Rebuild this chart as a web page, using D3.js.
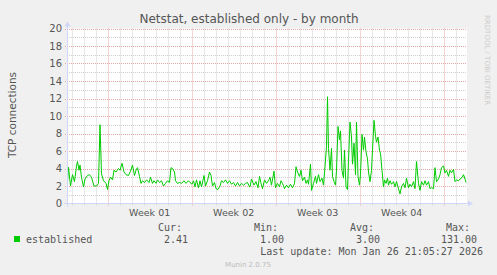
<!DOCTYPE html>
<html><head><meta charset="utf-8">
<script src="https://cdn.jsdelivr.net/npm/d3@7"></script>
<style>body{margin:0;background:#F0F0F0;}svg{display:block;}</style>
</head><body>
<script>
// ---- data ----
const title = "Netstat, established only - by month";
const yLabel = "TCP connections";
const seriesName = "established";
const weekLabels = ["Week 01","Week 02","Week 03","Week 04"];
const yTicks = [0,2,4,6,8,10,12,14,16,18,20];
// sample times (hours from start of graph window) and values
const hours = [1,3,7,11,15,19,21,24,26,29,33,36,41,45,49,54,59,63,66,69,73,78,81,84,87,91,94,98,103,106,110,114,118,123,127,131,135,138,141,145,148,151,155,159,164,167,171,174,178,181,185,189,193,197,201,205,208,211,215,217,221,225,229,234,238,243,246,250,253,256,259,263,266,269,274,277,281,285,288,291,295,298,302,306,309,313,317,321,325,329,333,337,341,345,349,353,357,361,365,
366,369,374,378,382,385,388,391,395,399,403,406,409,414,417,421,425,428,431,435,439,443,447,451,455,458,461,465,468,471,475,478,481,483,487,489,493,497,499,503,506,510,513,516,519,521,523,526,529,531,534,537,539,542,545,547,550,553,555,558,561,563,566,569,571,574,577,579,582,585,587,590,593,595,598,601,603,606,609,611,614,617,619,622,625,627,630,633,635,638,641,643,646,649,653,656,659,663,666,669,673,676,679,683,686,689,693,696,699,703,706,709,713,716,719,723,726,729,733,736,739,743,746,749,753,756,759,763,766,769,773,776,779,783,786,789,793,796,798];
const values = [2.4,4.15,2.0,3.3,2.5,4.3,4.8,3.8,4.4,3.0,1.9,2.8,3.2,3.3,3.0,2.0,2.0,2.3,9.0,3.4,2.6,2.3,1.6,2.6,3.0,2.7,3.8,3.6,4.0,3.8,4.6,3.6,3.3,3.2,3.7,4.4,3.2,3.8,4.1,3.1,2.3,2.6,2.4,2.7,2.4,3.0,2.3,2.6,2.3,2.7,2.4,2.6,2.0,2.3,2.6,2.4,4.1,4.0,3.6,2.6,2.3,2.4,2.3,2.6,2.3,2.6,2.4,2.2,2.6,1.9,2.7,1.8,2.6,1.9,3.2,2.0,2.6,3.6,3.2,2.0,2.4,1.7,1.6,2.0,2.6,2.4,2.7,2.3,2.6,2.2,2.4,2.0,2.4,2.0,2.3,2.1,2.3,2.4,1.9,
1.9,2.8,2.1,2.5,1.8,3.1,2.3,1.7,2.7,2.3,2.6,3.0,2.1,3.7,1.8,2.3,1.9,2.6,2.3,1.7,2.1,1.8,2.2,1.8,2.3,4.2,3.6,3.1,3.8,2.6,3.0,2.3,2.7,2.2,4.5,1.5,2.3,3.1,2.3,3.3,2.5,2.9,2.1,4.2,6.5,12.2,6.3,3.8,6.3,3.1,2.5,2.1,3.8,8.8,7.3,8.3,3.8,2.9,6.1,1.9,1.6,4.9,9.3,7.6,4.5,6.9,3.3,9.3,3.1,2.1,3.3,7.9,6.1,7.6,5.9,5.1,3.6,2.5,3.8,6.1,9.5,7.7,7.0,7.6,6.1,5.7,3.8,1.9,2.7,2.3,2.9,2.1,2.6,2.2,2.5,1.9,2.5,1.7,1.1,1.9,2.3,1.8,2.9,1.8,2.2,1.9,2.5,1.7,4.8,2.3,1.5,2.5,2.1,2.6,2.1,2.5,1.7,1.8,1.7,4.1,2.5,2.8,3.3,4.1,4.3,3.5,3.8,3.1,3.8,3.5,3.9,2.5,2.7,2.6,2.8,2.9,3.3,2.8,2.4];
const legendHeads = ["Cur:","Min:","Avg:","Max:"];
const legendValues = ["2.41","1.00","3.00","131.00"];
const lastUpdate = "Last update: Mon Jan 26 21:05:27 2026";
const footer = "Munin 2.0.75";
const sideText = "RRDTOOL / TOBI OETIKER";
const totalHours = 800;
const firstDayLine = 9.33;   // first midnight in the window (hours)
const firstWeekLine = 81.33; // first week boundary (hours)

// ---- layout ----
const W = 497, H = 275;
const L = 67, R = 467, T = 28.5, B = 203.5;
const svg = d3.select("body").append("svg").attr("width", W).attr("height", H);
svg.append("rect").attr("width", W).attr("height", H).attr("fill", "#F0F0F0");

const x = d3.scaleLinear().domain([0, totalHours]).range([L, R]);
const y = d3.scaleLinear().domain([0, 20]).range([B, T]);

svg.append("rect").attr("x", L).attr("y", T).attr("width", R - L).attr("height", B - T).attr("fill", "#FFFFFF");

const dayLines = d3.range(firstDayLine, totalHours, 24);
const weekLines = d3.range(firstWeekLine, totalHours, 168);
const isWeek = h => weekLines.some(w => Math.abs(w - h) < 1);
const g = svg.append("g");
// minor horizontal
g.selectAll(".hmin").data(d3.range(1, 20, 2)).join("line")
  .attr("x1", L).attr("x2", R).attr("y1", d => Math.round(y(d)) + 0.5).attr("y2", d => Math.round(y(d)) + 0.5)
  .attr("stroke", "#cfcfcf").attr("stroke-dasharray", "1,1");
// minor vertical
g.selectAll(".vmin").data(dayLines.filter(h => !isWeek(h))).join("line")
  .attr("x1", d => Math.round(x(d)) + 0.5).attr("x2", d => Math.round(x(d)) + 0.5).attr("y1", T).attr("y2", B + 2)
  .attr("stroke", "#cfcfcf").attr("stroke-dasharray", "1,1");
// major horizontal
g.selectAll(".hmaj").data(yTicks.filter(d => d > 0)).join("line")
  .attr("x1", L - 2).attr("x2", R).attr("y1", d => Math.round(y(d)) + 0.5).attr("y2", d => Math.round(y(d)) + 0.5)
  .attr("stroke", "#e8a8a8").attr("stroke-dasharray", "1,1");
// major vertical
g.selectAll(".vmaj").data(weekLines).join("line")
  .attr("x1", d => Math.round(x(d)) + 0.5).attr("x2", d => Math.round(x(d)) + 0.5).attr("y1", T).attr("y2", B + 3)
  .attr("stroke", "#e8a8a8").attr("stroke-dasharray", "1,1");

// data line
const pts = hours.map((h, i) => [h, values[i]]);
svg.append("path").datum(pts)
  .attr("d", d3.line().x(d => x(d[0])).y(d => y(d[1])))
  .attr("fill", "none").attr("stroke", "#00CC00").attr("stroke-width", 1);

// axes
const axisCol = "#CFD6F8";
svg.append("line").attr("x1", L - 3).attr("x2", R + 3).attr("y1", B).attr("y2", B).attr("stroke", axisCol);
svg.append("line").attr("x1", L + 0.5).attr("x2", L + 0.5).attr("y1", B + 3).attr("y2", T - 3).attr("stroke", axisCol);
svg.append("path").attr("d", `M${R+1},${B-3} L${R+6},${B} L${R+1},${B+3} Z`).attr("fill", axisCol);
svg.append("path").attr("d", `M${L-2.5},${T-2} L${L+0.5},${T-7} L${L+3.5},${T-2} Z`).attr("fill", axisCol);

// y tick labels
svg.selectAll(".yt").data(yTicks).join("text")
  .attr("x", 62).attr("y", d => y(d) + 3.5).attr("text-anchor", "end")
  .attr("font-family", "DejaVu Sans").attr("font-size", 10).attr("fill", "#555")
  .text(d => d);
// week labels
svg.selectAll(".wk").data(weekLines.slice(0, weekLabels.length)).join("text")
  .attr("x", d => x(d + 84)).attr("y", 216).attr("text-anchor", "middle")
  .attr("font-family", "DejaVu Sans").attr("font-size", 9.5).attr("fill", "#555")
  .text((d, i) => weekLabels[i]);

// title
svg.append("text").attr("x", 249).attr("y", 23).attr("text-anchor", "middle")
  .attr("font-family", "DejaVu Sans").attr("font-size", 12).attr("fill", "#555").text(title);
// y label
svg.append("text").attr("transform", "translate(16,115) rotate(-90)").attr("text-anchor", "middle")
  .attr("font-family", "DejaVu Sans").attr("font-size", 10.5).attr("fill", "#555").text(yLabel);
// side text
svg.append("text").attr("transform", "translate(485,15) rotate(90)").attr("text-anchor", "start")
  .attr("font-family", "DejaVu Sans").attr("font-size", 7).attr("fill", "#cccccc").text(sideText);

// legend
const mono = "DejaVu Sans Mono";
svg.append("rect").attr("x", 14).attr("y", 236).attr("width", 6).attr("height", 6).attr("fill", "#00CC00");
svg.append("text").attr("x", 26).attr("y", 243).attr("font-family", mono).attr("font-size", 10).attr("fill", "#555").text(seriesName);
const headX = [182, 278, 374, 470];
const valX = [188, 284, 380, 477];
svg.selectAll(".lh").data(legendHeads).join("text")
  .attr("x", (d, i) => headX[i]).attr("y", 231).attr("text-anchor", "end")
  .attr("font-family", mono).attr("font-size", 10).attr("fill", "#555").text(d => d);
svg.selectAll(".lv").data(legendValues).join("text")
  .attr("x", (d, i) => valX[i]).attr("y", 243).attr("text-anchor", "end")
  .attr("font-family", mono).attr("font-size", 10).attr("fill", "#555").text(d => d);
svg.append("text").attr("x", 483).attr("y", 255).attr("text-anchor", "end")
  .attr("font-family", mono).attr("font-size", 10).attr("fill", "#555").text(lastUpdate);
svg.append("text").attr("x", 248).attr("y", 267).attr("text-anchor", "middle")
  .attr("font-family", "DejaVu Sans").attr("font-size", 7).attr("fill", "#bbbbbb").text(footer);
</script>
</body></html>
